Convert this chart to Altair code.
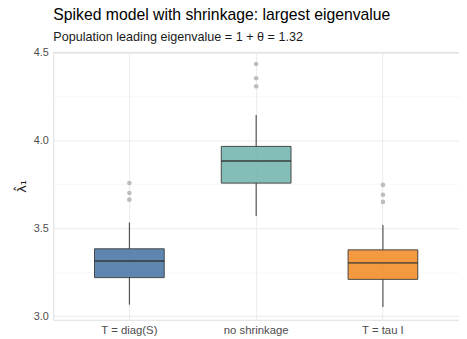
import altair as alt
import pandas as pd

categories = ["T = diag(S)", "no shrinkage", "T = tau I"]
q1 = [3.219, 3.757, 3.209]
median = [3.314, 3.883, 3.303]
q3 = [3.383, 3.966, 3.377]
whisker_low = [3.065, 3.570, 3.052]
whisker_high = [3.533, 4.145, 3.519]
outliers = {
    "T = diag(S)": [3.757, 3.701, 3.663],
    "no shrinkage": [4.435, 4.354, 4.308],
    "T = tau I": [3.747, 3.691, 3.650],
}
colors = ["#4E79A7", "#76B7B2", "#F28E2B"]
y_ticks = [3.0, 3.25, 3.5, 3.75, 4.0, 4.25, 4.5]

box_df = pd.DataFrame({
    "cat": categories, "q1": q1, "median": median, "q3": q3,
    "lo": whisker_low, "hi": whisker_high,
})
out_df = pd.DataFrame(
    [{"cat": c, "v": v} for c, vals in outliers.items() for v in vals]
)

FONT = "Liberation Sans"

x_enc = alt.X(
    "cat:N", sort=categories, title=None,
    scale=alt.Scale(domain=categories, paddingInner=0, paddingOuter=0.1),
    axis=alt.Axis(labelFontSize=11.5, labelColor="#4D4D4D", labelPadding=5,
                  labelAngle=0, grid=True, gridColor="#EBEBEB", gridWidth=1,
                  bandPosition=0.5, ticks=False, domain=False, labelFont=FONT),
)
y_scale = alt.Scale(domain=[2.979, 4.504], nice=False, zero=False)
y_axis = alt.Axis(
    values=y_ticks, title="λ̂₁", titleFontSize=13, titleColor="#1A1A1A",
    titleFont="DejaVu Sans", titleFontWeight="normal", titlePadding=5,
    labelFontSize=11, labelColor="#4D4D4D", labelPadding=5, labelFont=FONT,
    labelExpr="round(datum.value*2) == datum.value*2 ? format(datum.value, '.1f') : ''",
    ticks=False, domain=False, grid=True,
    gridColor={"condition": {"test": "round(datum.value*2) == datum.value*2", "value": "#EBEBEB"}, "value": "#F3F3F3"},
    gridWidth={"condition": {"test": "round(datum.value*2) == datum.value*2", "value": 1}, "value": 0.6},
)

base = alt.Chart(box_df)
color_scale = alt.Scale(domain=categories, range=colors)

whisk_low = base.mark_rule(color="#333333", strokeWidth=1).encode(
    x=x_enc, y=alt.Y("lo:Q", scale=y_scale, axis=y_axis), y2="q1:Q")
whisk_high = base.mark_rule(color="#333333", strokeWidth=1).encode(
    x=x_enc, y=alt.Y("q3:Q", scale=y_scale, axis=y_axis), y2="hi:Q")
boxes = base.mark_bar(width={"band": 0.55}, stroke="#333333", strokeWidth=1,
                      opacity=0.9).encode(
    x=x_enc, y=alt.Y("q1:Q", scale=y_scale, axis=y_axis), y2="q3:Q",
    color=alt.Color("cat:N", scale=color_scale, legend=None))
medians = base.mark_tick(color="#333333", thickness=2, size=71).encode(
    x=x_enc, y=alt.Y("median:Q", scale=y_scale, axis=y_axis))
points = alt.Chart(out_df).mark_circle(color="#BDBDBD", opacity=1, size=22).encode(
    x=x_enc, y=alt.Y("v:Q", scale=y_scale, axis=y_axis))

chart = alt.layer(whisk_low, whisk_high, boxes, medians, points).properties(
    width=412, height=272,
    autosize=alt.AutoSizeParams(type="none"),
    padding={"left": 46, "top": 42, "right": 0, "bottom": 22},
    title=alt.TitleParams(
        text="Spiked model with shrinkage: largest eigenvalue",
        subtitle="Population leading eigenvalue = 1 + θ = 1.32",
        anchor="start", frame="group", font=FONT, subtitleFont=FONT,
        fontSize=16, subtitleFontSize=12.8, fontWeight="normal",
        color="#000000", subtitleColor="#1A1A1A", offset=3, subtitlePadding=8,
    ),
).configure_view(stroke=None).configure(background="white")

chart.save("out.html", embed_options={"renderer": "svg", "actions": False})
